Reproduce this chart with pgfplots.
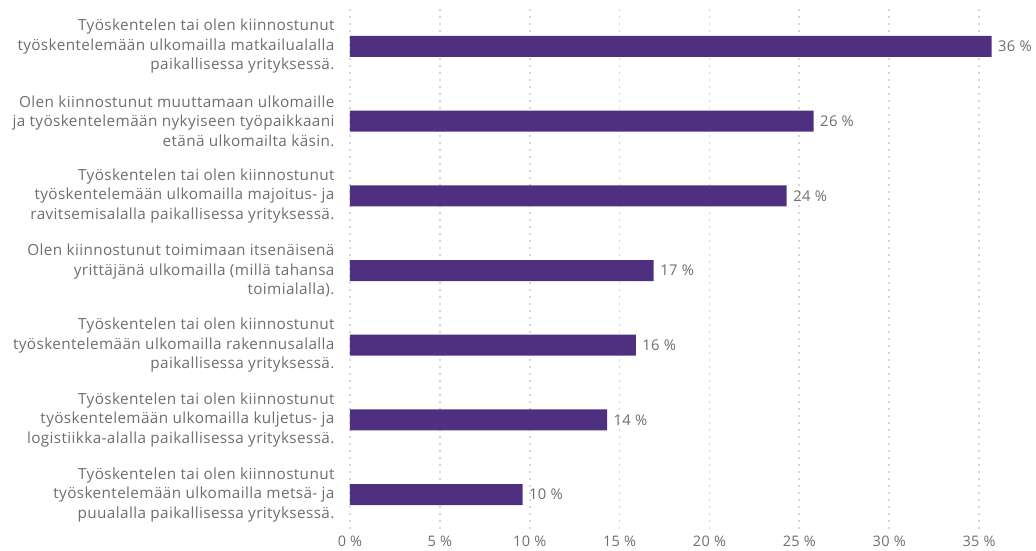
\documentclass[border=0pt]{standalone}
\usepackage{fontspec}
\setmainfont{Open Sans}[LetterSpace=2.5]
\usepackage{pgfplots}
\pgfplotsset{compat=1.18}
\definecolor{barpurple}{HTML}{4F3080}
\definecolor{txt}{HTML}{6E6E6E}
\definecolor{gridc}{HTML}{D6D6D6}
\begin{document}
\begin{tikzpicture}
\begin{axis}[
    scale only axis,
    width=665pt, height=523pt,
    xmin=0, xmax=37,
    ymin=-0.5, ymax=6.5,
    y dir=reverse,
    xbar, bar width=21pt,
    axis line style={draw=none},
    major tick length=0pt,
    xtick={0,5,...,35},
    xticklabels={0 \%,5 \%,10 \%,15 \%,20 \%,25 \%,30 \%,35 \%},
    ytick={0,...,6},
    yticklabels={
      {Työskentelen tai olen kiinnostunut\\työskentelemään ulkomailla matkailualalla\\paikallisessa yrityksessä.},
      {Olen kiinnostunut muuttamaan ulkomaille\\ja työskentelemään nykyiseen työpaikkaani\\etänä ulkomailta käsin.},
      {Työskentelen tai olen kiinnostunut\\työskentelemään ulkomailla majoitus- ja\\ravitsemisalalla paikallisessa yrityksessä.},
      {Olen kiinnostunut toimimaan itsenäisenä\\yrittäjänä ulkomailla (millä tahansa\\toimialalla).},
      {Työskentelen tai olen kiinnostunut\\työskentelemään ulkomailla rakennusalalla\\paikallisessa yrityksessä.},
      {Työskentelen tai olen kiinnostunut\\työskentelemään ulkomailla kuljetus- ja\\logistiikka-alalla paikallisessa yrityksessä.},
      {Työskentelen tai olen kiinnostunut\\työskentelemään ulkomailla metsä- ja\\puualalla paikallisessa yrityksessä.}
    },
    xmajorgrids,
    grid style={gridc, line width=1.8pt, dash pattern=on 1.8pt off 5.2pt},
    yticklabel style={font=\fontsize{15.3}{19.5}\selectfont, text=txt, align=right, xshift=-12pt},
    xticklabel style={font=\fontsize{14.5}{18}\selectfont, text=txt},
    nodes near coords,
    point meta=explicit symbolic,
    nodes near coords style={font=\fontsize{14.8}{18}\selectfont, text=txt, anchor=west, xshift=3pt},
    clip=false,
]
\addplot[draw=none, fill=barpurple] coordinates {
    (35.7,0) [36 \%]
    (25.8,1) [26 \%]
    (24.3,2) [24 \%]
    (16.9,3) [17 \%]
    (15.9,4) [16 \%]
    (14.3,5) [14 \%]
    (9.6,6) [10 \%]
};
\end{axis}
\pgfresetboundingbox
\path (current axis.south west) ++(-350pt,-19pt) rectangle ++(1036pt,551pt);
\end{tikzpicture}
\end{document}
